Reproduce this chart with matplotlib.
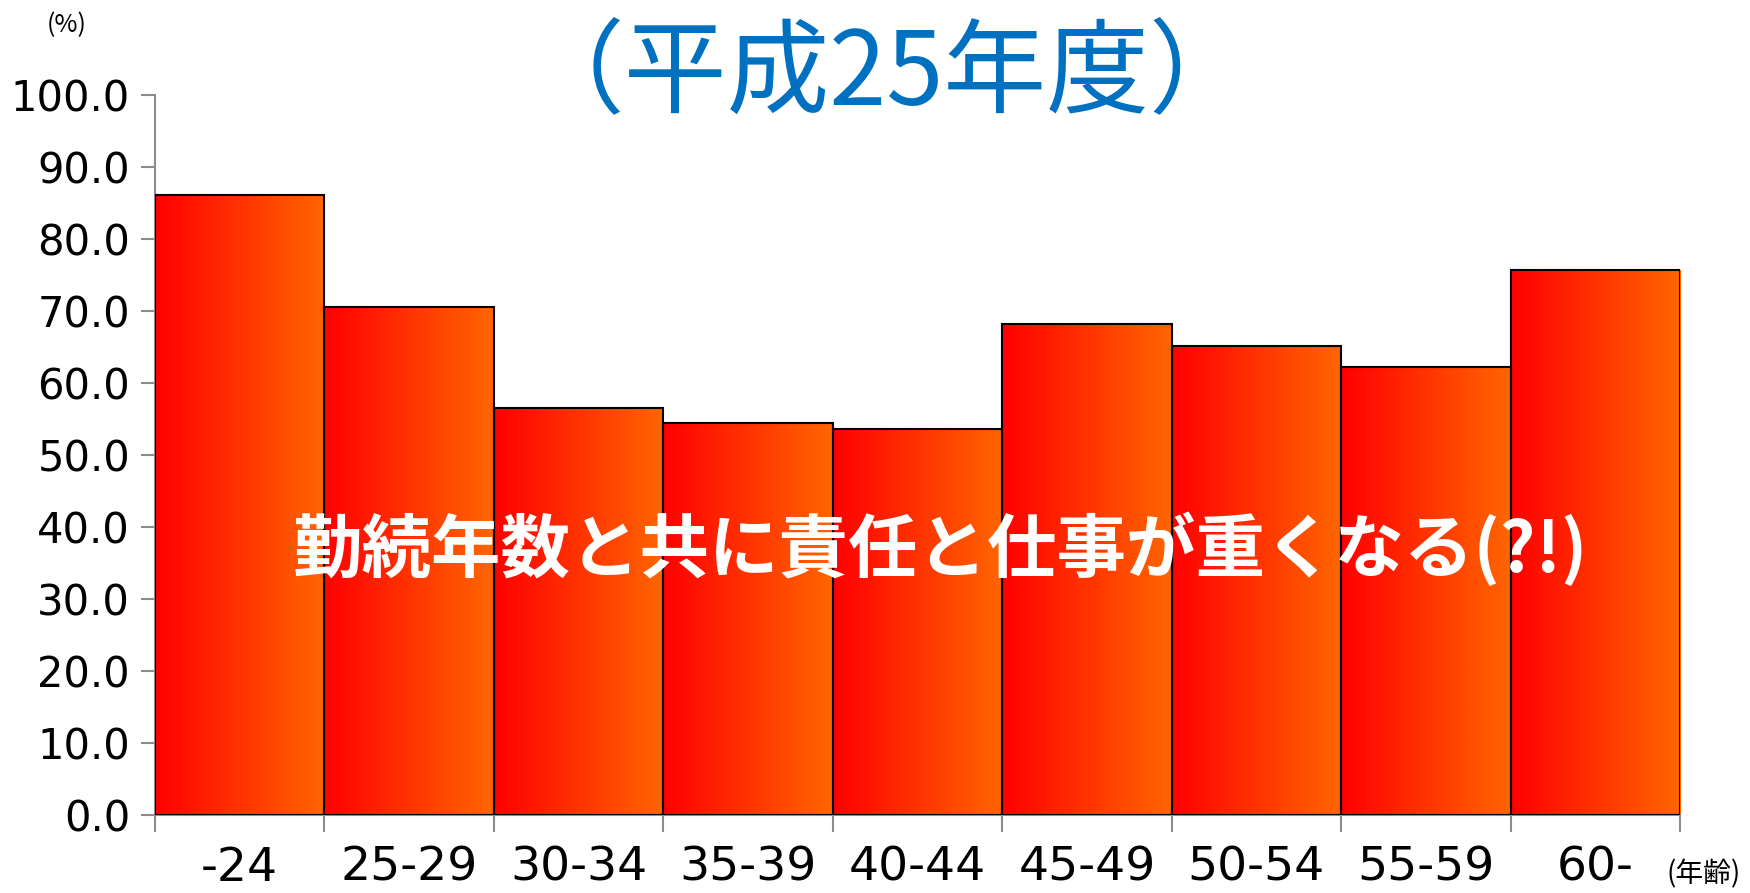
import numpy as np
import matplotlib.pyplot as plt
from matplotlib.colors import LinearSegmentedColormap

plt.rcParams['font.family'] = ['Noto Sans CJK JP', 'DejaVu Sans']

# age groups and share (%) for each
AgeGroups = ['-24', '25-29', '30-34', '35-39', '40-44', '45-49', '50-54', '55-59', '60-']
Rates = [86.1, 70.6, 56.6, 54.5, 53.6, 68.2, 65.2, 62.2, 75.7]

TitleTxt = '（平成25年度）'
NoteTxt = '勤続年数と共に責任と仕事が重くなる(?!)'

AxisGray = '#8c8c8c'
NumFont = ['DejaVu Sans']

fig = plt.figure(figsize=(17.5, 8.93), dpi=100)
ax = fig.add_axes([0.0886, 0.0873, 0.8714, 0.8063])

# red -> orange gradient across each bar
Grad = LinearSegmentedColormap.from_list('redorange', ['#ff0000', '#ff6600'])
GradImg = np.linspace(0, 1, 256).reshape(1, -1)

x = np.arange(len(AgeGroups))
Bars = ax.bar(x, Rates, width=1.0, align='edge', facecolor='none',
              edgecolor='black', linewidth=1.5, zorder=3)
for B in Bars:
    x0 = B.get_x()
    h = B.get_height()
    Im = ax.imshow(GradImg, cmap=Grad, aspect='auto',
                   extent=[x0, x0 + 1, 0, h], zorder=2)
    Im.set_clip_path(B)

ax.set_xlim(0, len(AgeGroups))
ax.set_ylim(0, 100)

# y axis
ax.set_yticks(np.arange(0, 101, 10))
ax.set_yticklabels(['%.1f' % v for v in np.arange(0, 101, 10)], fontsize=30,
                   family=NumFont)
ax.tick_params(axis='y', length=10, width=1.5, color=AxisGray, pad=8)

# x axis: tick marks at bar edges, labels at bar centres
ax.set_xticks(np.arange(0, len(AgeGroups) + 1), minor=True)
ax.set_xticks(x + 0.5)
ax.set_xticklabels(AgeGroups, fontsize=34, family=NumFont)
ax.tick_params(axis='x', which='major', length=0, pad=22)
ax.tick_params(axis='x', which='minor', length=12, width=1.5, color=AxisGray)

for S in ['top', 'right']:
    ax.spines[S].set_visible(False)
for S in ['left', 'bottom']:
    ax.spines[S].set_color(AxisGray)
    ax.spines[S].set_linewidth(1.5)

fig.text(67 / 1750, 1 - 25 / 893, '(%)', fontsize=18, ha='center', va='center')
fig.text(1704 / 1750, 1 - 874 / 893, '(年齢)', fontsize=20, ha='center', va='center')

fig.text(887 / 1750, 1 - 76 / 893, TitleTxt, fontsize=74, color='#0070c0',
         ha='center', va='center')

fig.text(940 / 1750, 1 - 550 / 893, NoteTxt, fontsize=50, color='white',
         fontweight='bold', ha='center', va='center', zorder=10)

fig.savefig('out.png', dpi=100)
